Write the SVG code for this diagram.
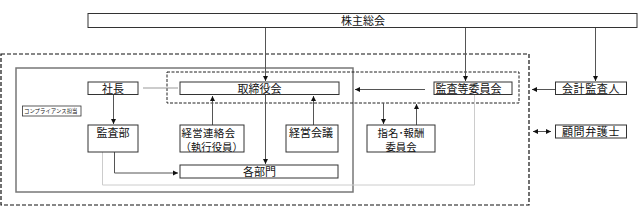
<svg xmlns="http://www.w3.org/2000/svg" width="640" height="220" viewBox="0 0 640 220">
<style>
.box{fill:#fff;stroke:#333;stroke-width:1}
.t{font-family:"Noto Sans CJK JP","Noto Sans CJK SC",sans-serif;font-size:11px;fill:#111}
.t2{font-size:10.4px}
.c{text-anchor:middle}
.ln{fill:none;stroke:#555;stroke-width:1}
.lg{fill:none;stroke:#999;stroke-width:1}
.ll{fill:none;stroke:#ccc;stroke-width:1}
</style>
<defs>
<marker id="ah" markerWidth="6" markerHeight="6" refX="5" refY="3" orient="auto" markerUnits="userSpaceOnUse">
<path d="M0,0.5 L5,3 L0,5.5 Z" fill="#111"/>
</marker>
<marker id="as" markerWidth="6" markerHeight="6" refX="0" refY="3" orient="auto" markerUnits="userSpaceOnUse">
<path d="M5,0.5 L0,3 L5,5.5 Z" fill="#111"/>
</marker>
</defs>
<rect width="640" height="220" fill="#fff"/>
<g id="frames">
<rect x="1" y="54" width="528" height="151" fill="none" stroke="#111" stroke-width="1.2" stroke-dasharray="4,2"/>
<rect x="16" y="68" width="337" height="124" fill="none" stroke="#777" stroke-width="1.5"/>
<rect x="167" y="72" width="352" height="31" fill="none" stroke="#222" stroke-width="1" stroke-dasharray="3,1.5"/>
</g>
<g id="connectors">
<line class="ln" x1="265.5" y1="27" x2="265.5" y2="81" marker-end="url(#ah)"/>
<line class="ln" x1="465.5" y1="27" x2="465.5" y2="81" marker-end="url(#ah)"/>
<line class="ln" x1="595.5" y1="27" x2="595.5" y2="81" marker-end="url(#ah)"/>
<line class="lg" x1="143" y1="88" x2="178" y2="88"/>
<line class="ln" x1="425" y1="89.5" x2="355" y2="89.5" marker-end="url(#ah)"/>
<line class="ln" x1="555" y1="89.5" x2="532" y2="89.5" marker-end="url(#ah)"/>
<line class="ln" x1="533" y1="131.5" x2="551" y2="131.5" marker-start="url(#as)" marker-end="url(#ah)"/>
<line class="ln" x1="113.5" y1="94" x2="113.5" y2="124" marker-end="url(#ah)"/>
<line class="ln" x1="212.5" y1="125" x2="212.5" y2="96" marker-end="url(#ah)"/>
<line class="ln" x1="313.5" y1="125" x2="313.5" y2="96" marker-end="url(#ah)"/>
<line class="ln" x1="265.5" y1="95" x2="265.5" y2="164" marker-end="url(#ah)"/>
<polyline class="ln" points="114.5,152 114.5,173 178,173" marker-end="url(#ah)"/>
<polyline class="ll" points="102.5,152 102.5,185 474.5,185 474.5,94"/>
<line class="ln" x1="383.5" y1="103" x2="383.5" y2="124" marker-end="url(#ah)"/>
<line class="ln" x1="416.5" y1="125" x2="416.5" y2="104" marker-end="url(#ah)"/>
</g>
<g id="n-kabunushi"><rect class="box" x="88" y="13.5" width="549" height="14"/><text class="t c" x="363" y="24.5">株主総会</text></g>
<g id="n-shacho"><rect class="box" x="88" y="82" width="50" height="12.5"/><text class="t c" x="113" y="92.5">社長</text></g>
<g id="n-torishimari"><rect class="box" x="180" y="82" width="159" height="12.5"/><text class="t c" x="259.5" y="92.5">取締役会</text></g>
<g id="n-kansatou"><rect class="box" x="434" y="82" width="78" height="12.5"/><text class="t" x="435.5" y="92.5">監査等委員会</text></g>
<g id="n-kaikei"><rect class="box" x="555.5" y="82" width="71" height="12.5"/><text class="t c" x="591" y="92.5" letter-spacing="0.6">会計監査人</text></g>
<g id="n-komon"><rect class="box" x="555.5" y="125" width="71" height="13"/><text class="t c" x="591" y="135.5" letter-spacing="0.6">顧問弁護士</text></g>
<g id="n-compliance"><rect x="22.5" y="106" width="58.5" height="10" fill="#fff" stroke="#333" stroke-width="0.8"/><text x="24" y="113.3" style="font-family:'Noto Sans CJK JP',sans-serif;font-size:5.4px;fill:#111">コンプライアンス担当</text></g>
<g id="n-kansabu"><rect class="box" x="88" y="125" width="50" height="27"/><text class="t c" x="113" y="137">監査部</text></g>
<g id="n-keiei-renraku"><rect class="box" x="180" y="125" width="64" height="27"/><text class="t t2" x="181.5" y="136.5" letter-spacing="0.4">経営連絡会</text><text class="t t2" x="180.5" y="150.5">（執行役員）</text></g>
<g id="n-keiei-kaigi"><rect class="box" x="286" y="125" width="52" height="27"/><text class="t c" x="311" y="137">経営会議</text></g>
<g id="n-shimei"><rect class="box" x="367" y="125" width="68" height="27"/><text class="t t2 c" x="401" y="136.5">指名･報酬</text><text class="t t2 c" x="401" y="150.5">委員会</text></g>
<g id="n-kakubumon"><rect class="box" x="180" y="165" width="158" height="13"/><text class="t c" x="259.5" y="175.5">各部門</text></g>
</svg>
